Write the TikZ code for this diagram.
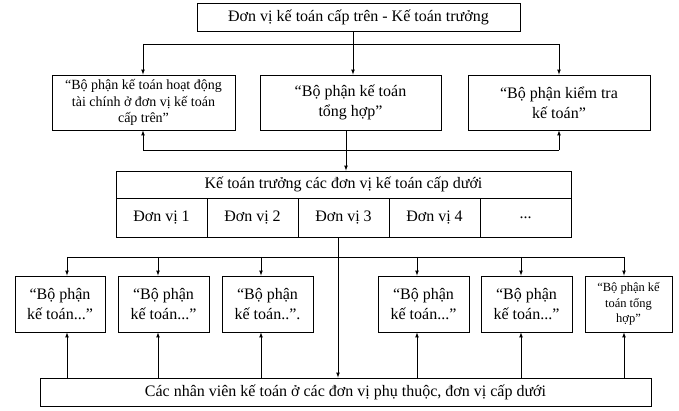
\documentclass[tikz,border=0pt]{standalone}
\usepackage{fontspec}
\setmainfont{Liberation Serif}
\usepackage{tikz}
\usetikzlibrary{arrows}
\tikzset{box/.style={draw, line width=0.9pt, inner sep=0pt, align=center, font=\fontsize{16}{20}\selectfont}}
\tikzset{link/.style={line width=0.7pt}}
\newcommand{\bigtx}{\fontsize{16}{20}\selectfont}
\newcommand{\midtx}{\fontsize{14}{16.5}\selectfont}
\newcommand{\smalltx}{\fontsize{12.5}{15.5}\selectfont}

\begin{document}
\begin{tikzpicture}[x=1pt,y=-1pt]
    \useasboundingbox (0,0) rectangle (679,411);
    \node[box, minimum width=323pt, minimum height=28pt] (top) at (358.5,17) {Đơn vị kế toán cấp trên - Kế toán trưởng};
    \foreach \lab/\x/\w/\f/\tx in {
      b1/143.5/183/\midtx/{“Bộ phận kế toán hoạt động\\tài chính ở đơn vị kế toán\\cấp trên”},
      b2/350.5/181/\bigtx/{“Bộ phận kế toán\\tổng hợp”},
      b3/559/182/\bigtx/{“Bộ phận kiểm tra\\kế toán”}%
    } {
      \node[box, font=\f, minimum width=\w pt, minimum height=55pt] (\lab) at (\x,102.5) {\tx};
    }
    % upper links
    \coordinate (tl) at (143,44);
    \coordinate (tr) at (559,44);
    \coordinate (tc) at (353,44);
    \draw[link] (tl) -- (tr);
    \draw[link,-latex] (tl) -- (tl |- b1.north);
    \draw[link,-latex] (tr) -- (tr |- b3.north);
    \draw[link,-latex] (tc |- top.south) -- (tc |- b2.north);
    \coordinate (ul) at (143,150);
    \coordinate (ur) at (559,150);
    \coordinate (uc) at (346,150);
    \draw[link] (ul) -- (ur);
    \draw[link,-latex] (ul) -- (ul |- b1.south);
    \draw[link,-latex] (ur) -- (ur |- b3.south);
    % chief accountants of lower units
    \node[box, minimum width=455pt, minimum height=27pt] (head) at (343.5,184.5) {Kế toán trưởng các đơn vị kế toán cấp dưới};
    \foreach \i/\x/\tx in {1/161.5/Đơn vị 1, 2/252.5/Đơn vị 2, 3/343.5/Đơn vị 3, 4/434.5/Đơn vị 4, 5/525.5/{...}} {
      \node[box, minimum width=91pt, minimum height=39pt] (c\i) at (\x,217.5) {\tx};
    }
    \draw[link,-latex] (uc |- b2.south) -- (uc |- head.north);
    % staff
    \node[box, minimum width=611pt, minimum height=28pt] (staff) at (345.5,392) {Các nhân viên kế toán ở các đơn vị phụ thuộc, đơn vị cấp dưới};
    \coordinate (mc) at (338,257);
    \coordinate (ml) at (67,257);
    \coordinate (mr) at (624,257);
    \draw[link] (ml) -- (mr);
    \draw[link,-latex] (mc |- c3.south) -- (mc |- staff.north);
    \foreach \lab/\x/\w/\ax/\f/\tx in {
      a/60/90/67/\bigtx/{“Bộ phận\\kế toán...”},
      b/163.5/91/158/\bigtx/{“Bộ phận\\kế toán...”},
      c/267.5/91/261/\bigtx/{“Bộ phận\\kế toán..”.},
      d/423.5/91/417/\bigtx/{“Bộ phận\\kế toán...”},
      e/526.5/91/521/\bigtx/{“Bộ phận\\kế toán...”},
      f/628.5/87/624/\smalltx/{“Bộ phận kế\\toán tổng\\hợp”}%
    } {
      \node[box, font=\f, minimum width=\w pt, minimum height=56pt] (s\lab) at (\x,304) {\tx};
      \coordinate (t\lab) at (\ax,257);
      \draw[link,-latex] (t\lab) -- (t\lab |- s\lab.north);
      \draw[link,-latex] (t\lab |- staff.north) -- (t\lab |- s\lab.south);
    }
\end{tikzpicture}
\end{document}
